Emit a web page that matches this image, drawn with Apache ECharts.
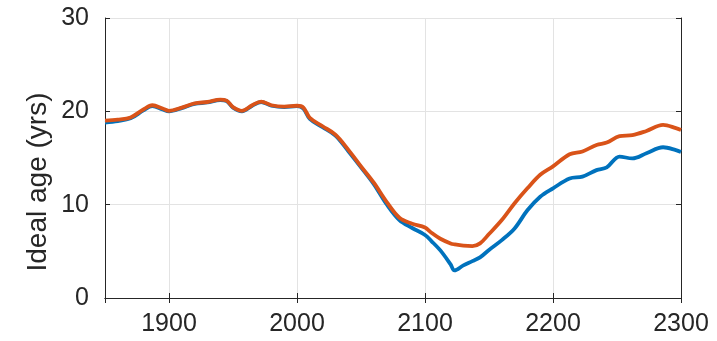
<!DOCTYPE html>
<html>
<head>
<meta charset="utf-8">
<script src="https://cdn.jsdelivr.net/npm/echarts@6/dist/echarts.min.js"></script>
<style>
  html, body { margin: 0; padding: 0; background: #fff; }
  #chart { width: 717px; height: 341px; }
</style>
</head>
<body>
<div id="chart"></div>
<script>
// Years sampled along the time axis
const years = [1850,1860,1870,1880,1887,1895,1900,1910,1920,1930,1940,1945,1950,1957,1965,1972,1980,1990,2000,2005,2010,2020,2030,2040,2050,2060,2070,2080,2090,2100,2105,2112,2120,2123,2130,2137,2143,2150,2160,2170,2180,2190,2200,2213,2223,2234,2242,2252,2262,2273,2286,2296,2300];

// Ideal age (yrs), first scenario
const ageBlue = [18.8,18.95,19.25,20.1,20.55,20.2,20.0,20.35,20.8,20.95,21.2,21.1,20.4,20.0,20.6,21.0,20.6,20.45,20.55,20.3,19.2,18.3,17.4,15.75,14.0,12.2,10.05,8.35,7.5,6.75,6.1,5.1,3.6,2.95,3.5,3.95,4.35,5.15,6.2,7.45,9.4,10.85,11.75,12.8,13.0,13.7,14.0,15.15,14.95,15.5,16.15,15.85,15.65];

// Ideal age (yrs), second scenario
const ageOrange = [19.0,19.1,19.35,20.2,20.65,20.3,20.05,20.4,20.85,21.0,21.25,21.15,20.45,20.05,20.65,21.05,20.65,20.5,20.6,20.4,19.3,18.4,17.5,15.9,14.1,12.35,10.3,8.6,7.95,7.55,7.0,6.35,5.85,5.75,5.6,5.55,5.85,6.85,8.35,10.15,11.75,13.2,14.1,15.4,15.7,16.4,16.65,17.35,17.45,17.9,18.55,18.2,18.0];

const xTicks = [1900, 2000, 2100, 2200, 2300];
const yTicks = [0, 10, 20, 30];
const yLabel = 'Ideal age (yrs)';

const axisColor = '#262626';
const gridColor = '#e3e3e3';
const font = 'Liberation Sans, Arial, Helvetica, sans-serif';

const pair = (vals) => years.map((y, i) => [y, vals[i]]);

const chart = echarts.init(document.getElementById('chart'), null, { renderer: 'canvas' });

const baseX = {
  type: 'value', min: 1850, max: 2300, splitNumber: xTicks.length,
  axisLine: { show: true, lineStyle: { color: axisColor, width: 1 } },
  axisTick: { show: true, inside: true, length: 5, lineStyle: { color: axisColor } }
};
const baseY = {
  type: 'value', min: yTicks[0], max: yTicks[yTicks.length - 1], interval: 10,
  axisLine: { show: true, lineStyle: { color: axisColor, width: 1 } },
  axisTick: { show: true, inside: true, length: 5, lineStyle: { color: axisColor } }
};

chart.setOption({
  animation: false,
  backgroundColor: '#ffffff',
  grid: { left: 105, right: 36, top: 18, bottom: 43, containLabel: false },
  xAxis: [
    Object.assign({}, baseX, {
      position: 'bottom',
      splitLine: { show: true, lineStyle: { color: gridColor, width: 1 } },
      axisLabel: {
        show: true, margin: 14, color: axisColor, fontSize: 25, fontFamily: font,
        showMinLabel: false,
        formatter: (v) => (xTicks.indexOf(v) >= 0 ? String(v) : '')
      }
    }),
    Object.assign({}, baseX, {
      position: 'top',
      splitLine: { show: false },
      axisLabel: { show: false }
    })
  ],
  yAxis: [
    Object.assign({}, baseY, {
      position: 'left',
      splitLine: { show: true, lineStyle: { color: gridColor, width: 1 } },
      axisLabel: { show: true, margin: 16, color: axisColor, fontSize: 25, fontFamily: font }
    }),
    Object.assign({}, baseY, {
      position: 'right',
      splitLine: { show: false },
      axisLabel: { show: false }
    })
  ],
  graphic: [{
    type: 'text',
    x: 38, y: 182,
    rotation: Math.PI / 2,
    style: {
      text: yLabel,
      fill: axisColor,
      font: '28px ' + font,
      textAlign: 'center',
      textVerticalAlign: 'middle'
    }
  }],
  series: [
    {
      type: 'line', xAxisIndex: 0, yAxisIndex: 0,
      data: pair(ageBlue), smooth: 0.35, showSymbol: false,
      lineStyle: { color: '#0072BD', width: 3.8 }, z: 3
    },
    {
      type: 'line', xAxisIndex: 0, yAxisIndex: 0,
      data: pair(ageOrange), smooth: 0.35, showSymbol: false,
      lineStyle: { color: '#D95319', width: 3.8 }, z: 4
    }
  ]
});
</script>
</body>
</html>
